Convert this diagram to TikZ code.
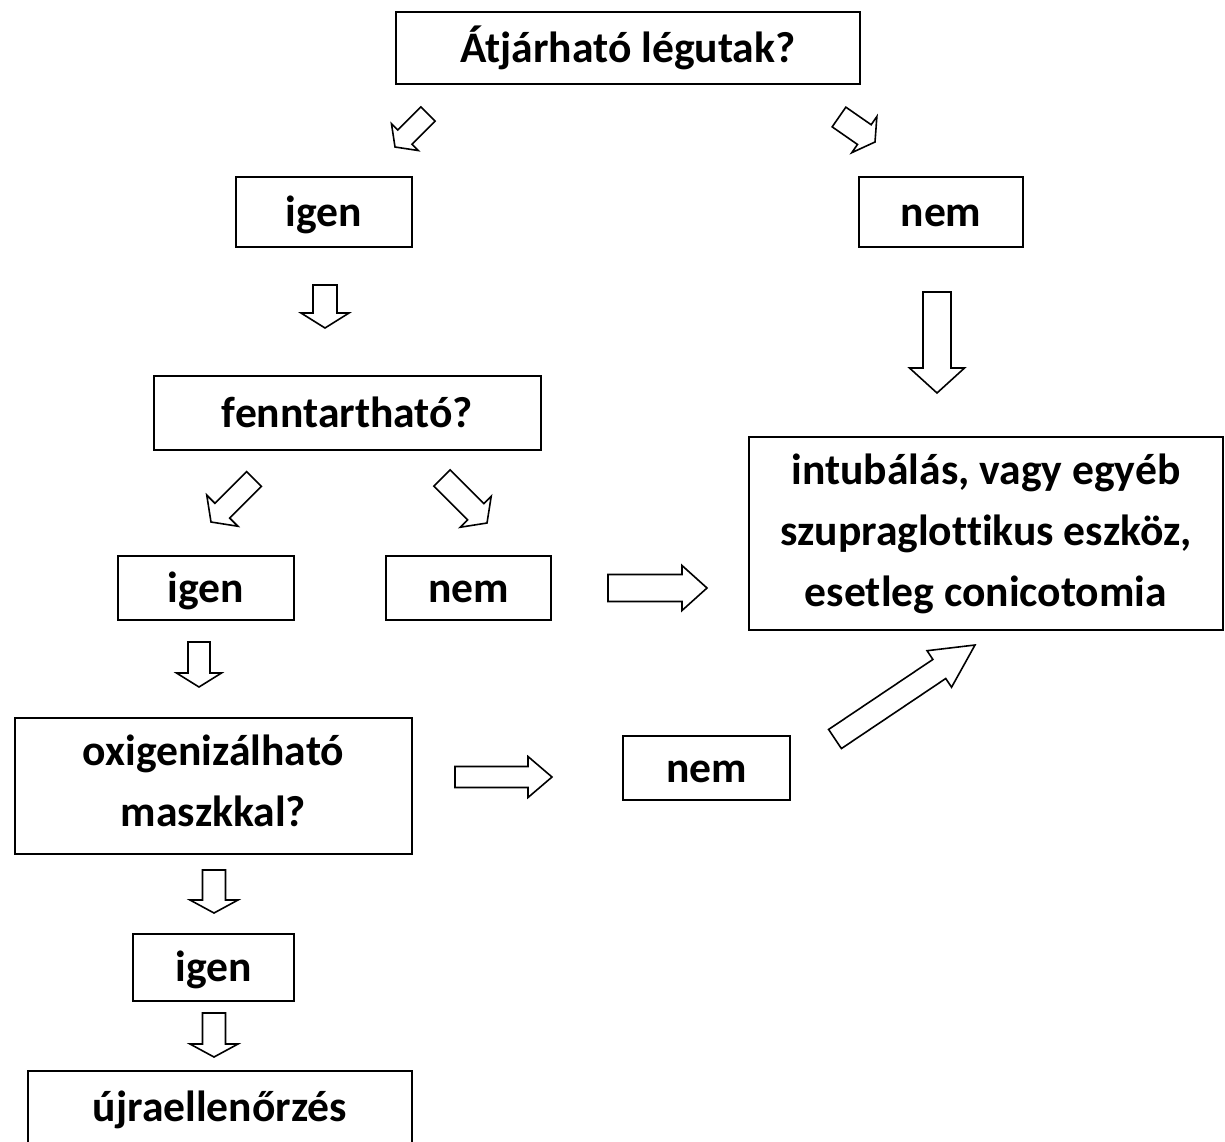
\documentclass[tikz,border=0pt]{standalone}
\usepackage{fontspec}
\setmainfont{Carlito}[Ligatures=NoCommon]
\usetikzlibrary{calc}
\tikzset{
  box/.style={draw, line width=1pt, inner sep=0pt, align=center,
    font=\fontsize{21.8}{30.5}\selectfont\bfseries},
  single/.style={box, text height=17pt, text depth=3pt},
  barrow/.style={draw, line width=0.8pt, fill=white, line join=miter}
}
% block arrow from coordinate #1 (tail) to #2 (tip): body half width #3, head half width #4, head length #5
\newcommand{\blockarr}[5]{%
  \coordinate (tmpH) at ($(#2)!#5!(#1)$);
  \draw[barrow] ($(#1)!#3!90:(#2)$) -- ($(tmpH)!#3!90:(#2)$) -- ($(tmpH)!#4!90:(#2)$)
    -- (#2) -- ($(tmpH)!#4!-90:(#2)$) -- ($(tmpH)!#3!-90:(#2)$) -- ($(#1)!#3!-90:(#2)$) -- cycle;
}
\begin{document}
\begin{tikzpicture}[x=0.5pt,y=-0.5pt]
\useasboundingbox (0,0) rectangle (1225,1141);

\node[single, minimum width=232pt, minimum height=36pt] (q1) at (628,48) {Átjárható légutak?};
\node[single, minimum width=88pt, minimum height=35pt] (igen1) at (324,212) {igen};
\node[single, minimum width=82pt, minimum height=35pt] (nem1) at (941,212) {nem};
\node[single, minimum width=193.5pt, minimum height=37pt] (q2) at (347.5,413) {fenntartható?};
\node[box, minimum width=237pt, minimum height=96.5pt] (act) at (986,533.5)
  {intubálás, vagy egyéb\\szupraglottikus eszköz,\\esetleg conicotomia};
\node[single, minimum width=88pt, minimum height=32pt] (igen2) at (206,588) {igen};
\node[single, minimum width=82.5pt, minimum height=32pt] (nem2) at (468.5,588) {nem};
\node[box, text depth=5pt, minimum width=198.5pt, minimum height=68pt] (q3) at (213.5,786) {oxigenizálható\\maszkkal?};
\node[single, minimum width=83.5pt, minimum height=32pt] (nem3) at (706.5,768) {nem};
\node[single, minimum width=80.5pt, minimum height=33.5pt] (igen3) at (213.5,967.5) {igen};
\node[single, minimum width=192pt, minimum height=36pt] (re) at (220,1107) {újraellenőrzés};

\coordinate (a1s) at (428,114);  \coordinate (a1e) at (395,147);
\coordinate (a2s) at (839,117);  \coordinate (a2e) at (875,142);
\coordinate (a3s) at (325,285);  \coordinate (a3e) at (325,328);
\coordinate (a4s) at (937,292);  \coordinate (a4e) at (937,393);
\coordinate (a5s) at (254,479);  \coordinate (a5e) at (211,522);
\coordinate (a6s) at (442,478);  \coordinate (a6e) at (487,523);
\coordinate (a7s) at (608,588);  \coordinate (a7e) at (707,588);
\coordinate (a8s) at (455,777);  \coordinate (a8e) at (552,777);
\coordinate (a9s) at (835,739);  \coordinate (a9e) at (975,645);
\coordinate (a10s) at (199,642); \coordinate (a10e) at (199,687);
\coordinate (a11s) at (214,870); \coordinate (a11e) at (214,913);
\coordinate (a12s) at (214,1013); \coordinate (a12e) at (214,1057);

\blockarr{a1s}{a1e}{5pt}{9.5pt}{7pt}
\blockarr{a2s}{a2e}{6pt}{11pt}{6.5pt}
\blockarr{a3s}{a3e}{6pt}{12pt}{7.5pt}
\blockarr{a4s}{a4e}{7pt}{13.75pt}{12.5pt}
\blockarr{a5s}{a5e}{5.25pt}{11pt}{8pt}
\blockarr{a6s}{a6e}{5.75pt}{11pt}{8pt}
\blockarr{a7s}{a7e}{6.75pt}{11.25pt}{12.5pt}
\blockarr{a8s}{a8e}{5.25pt}{10.25pt}{12pt}
\blockarr{a9s}{a9e}{5.75pt}{11pt}{21.5pt}
\blockarr{a10s}{a10e}{5.5pt}{11.25pt}{7pt}
\blockarr{a11s}{a11e}{5.75pt}{12pt}{6.5pt}
\blockarr{a12s}{a12e}{5.75pt}{12pt}{6.5pt}
\end{tikzpicture}
\end{document}
